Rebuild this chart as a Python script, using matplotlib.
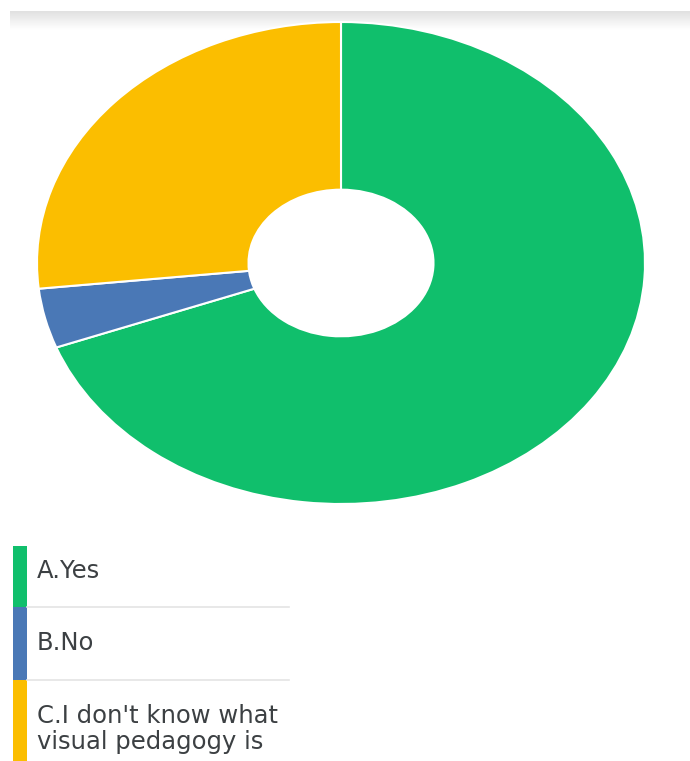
import numpy as np
import matplotlib.pyplot as plt

# survey answers (% of respondents)
labels = ['A.Yes', 'B.No', "C.I don't know what\nvisual pedagogy is"]
shares = [69.3, 4.0, 26.7]
colors = ['#10bf6c', '#4a78b6', '#fbbe00']

W, H = 690, 761
fig = plt.figure(figsize=(W / 100, H / 100), dpi=100)
plt.rcParams['font.family'] = ['DejaVu Sans']

# background overlay in pixel coordinates (header shadow + legend)
bg = fig.add_axes([0, 0, 1, 1])
bg.set_xlim(0, W)
bg.set_ylim(H, 0)
bg.axis('off')

# soft grey shadow band under the header
grad = np.linspace(0.88, 1.0, 20).reshape(-1, 1)
bg.imshow(grad, cmap='gray', vmin=0, vmax=1, extent=(10, W, 30, 11),
          aspect='auto', interpolation='bilinear', zorder=0)

# donut, stretched horizontally
cx, cy, rx, ry = 341, 263, 304, 241
ax = fig.add_axes([(cx - rx) / W, (H - cy - ry) / H, 2 * rx / W, 2 * ry / H])
ax.pie(shares, colors=colors, startangle=90, counterclock=False, radius=1,
       wedgeprops=dict(width=1 - 92.5 / 304, edgecolor='white', linewidth=1.5))
ax.set_aspect('auto')
ax.set_xlim(-1, 1)
ax.set_ylim(-1, 1)

# legend rows: colour strip, label, separator
rows = [(546, 607), (607, 680), (680, 761)]
text_y = [571, 643, 729]
for (y0, y1), ty, lab, col in zip(rows, text_y, labels, colors):
    bg.add_patch(plt.Rectangle((13, y0), 14, y1 - y0, color=col, lw=0))
    bg.text(37, ty, lab, fontsize=17.5, color='#3c4043', va='center', ha='left',
            linespacing=1.1)
for y in [607, 680]:
    bg.plot([27, 289], [y, y], color='#e4e4e4', lw=1.2)

plt.savefig('out.png', dpi=100)
